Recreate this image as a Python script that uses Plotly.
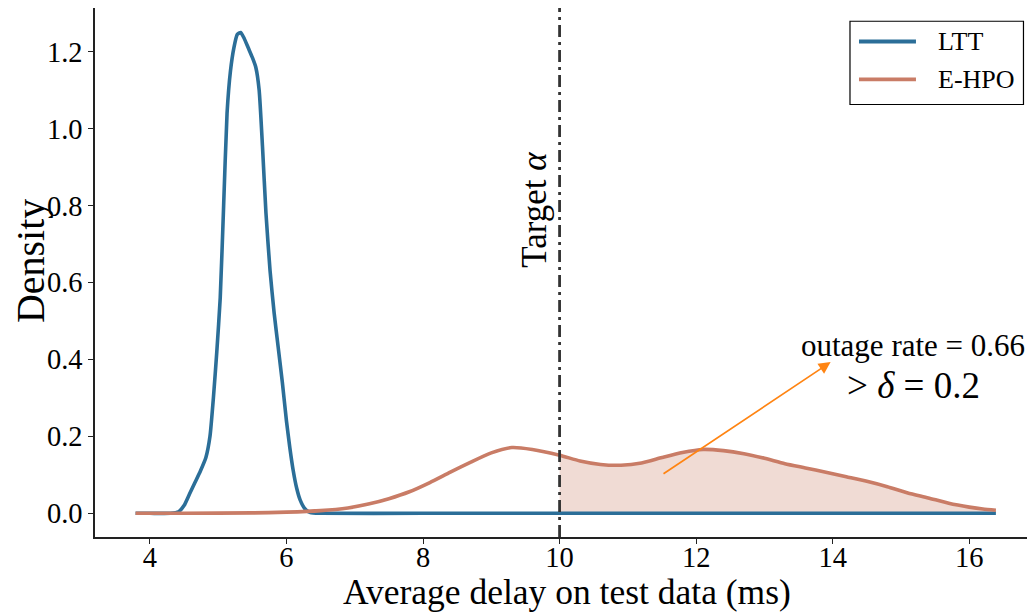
import plotly.graph_objects as go

# ---------------- data ----------------
ltt_x = [3.79, 4.0, 4.3, 4.42, 4.5, 4.58, 4.66, 4.74, 4.82, 4.88, 4.93, 4.98, 5.03, 5.08, 5.13,
         5.18, 5.23, 5.28, 5.33, 5.38, 5.44, 5.5, 5.55, 5.6, 5.65, 5.7, 5.76, 5.82, 5.88, 5.94,
         6.0, 6.05, 6.1, 6.15, 6.2, 6.27, 6.35, 6.5, 8.0, 10.0, 12.0, 14.0, 16.39]
ltt_y = [0.0, 0.0, 0.0, 0.004, 0.02, 0.05, 0.08, 0.11, 0.145, 0.2, 0.3, 0.42, 0.56, 0.8, 1.04,
         1.15, 1.21, 1.245, 1.25, 1.235, 1.21, 1.185, 1.16, 1.1, 0.95, 0.78, 0.63, 0.52, 0.43, 0.34,
         0.24, 0.17, 0.11, 0.065, 0.035, 0.012, 0.002, 0.0, 0.0, 0.0, 0.0, 0.0, 0.0]

ehpo_x = [3.79, 4.5, 5.5, 6.0, 6.5, 6.9, 7.2, 7.5, 7.8, 8.1, 8.4, 8.7, 9.0, 9.3, 9.6, 10.0,
          10.3, 10.6, 10.9, 11.2, 11.5, 11.8, 12.1, 12.4, 12.7, 13.0, 13.3, 13.6, 13.9, 14.2,
          14.5, 14.8, 15.1, 15.4, 15.7, 16.0, 16.2, 16.39]
ehpo_y = [0.0, 0.0, 0.001, 0.003, 0.007, 0.014, 0.024, 0.038, 0.056, 0.08, 0.107, 0.133, 0.157,
          0.171, 0.166, 0.151, 0.136, 0.127, 0.125, 0.131, 0.145, 0.158, 0.166, 0.163, 0.155,
          0.143, 0.129, 0.118, 0.107, 0.095, 0.083, 0.069, 0.053, 0.04, 0.026, 0.016, 0.011, 0.008]

series_names = ["LTT", "E-HPO"]
target_alpha = 10.0
outage_rate = 0.66
delta = 0.2
x_ticks = [4, 6, 8, 10, 12, 14, 16]
y_ticks = [0.0, 0.2, 0.4, 0.6, 0.8, 1.0, 1.2]

# ---------------- style ----------------
FONT = "Liberation Serif"
BLUE = "#2b6e98"
SALMON = "#c97c66"

fig = go.Figure()

fill_x = [x for x in ehpo_x if x >= target_alpha]
fill_y = [y for x, y in zip(ehpo_x, ehpo_y) if x >= target_alpha]
fig.add_trace(go.Scatter(x=fill_x, y=fill_y, mode="lines", fill="tozeroy",
                         fillcolor="rgba(201,124,102,0.28)", line=dict(width=0, shape="spline", smoothing=0.6),
                         showlegend=False, hoverinfo="skip"))

fig.add_trace(go.Scatter(x=ltt_x, y=ltt_y, mode="lines", name=series_names[0],
                         line=dict(color=BLUE, width=3.6, shape="spline", smoothing=0.5)))
fig.add_trace(go.Scatter(x=ehpo_x, y=ehpo_y, mode="lines", name=series_names[1],
                         line=dict(color=SALMON, width=3.6, shape="spline", smoothing=0.6)))

fig.add_shape(type="line", x0=target_alpha, x1=target_alpha, xref="x", yref="paper", y0=0, y1=1,
              line=dict(color="#333333", width=2.8, dash="12px,5px,3px,5px"))

fig.add_annotation(x=9.64, y=0.789, xref="x", yref="y", text="Target <i>α</i>", textangle=-90,
                   showarrow=False, font=dict(family=FONT, size=35, color="black"))

fig.add_annotation(x=13.97, y=0.393, ax=11.5, ay=0.1, xref="x", yref="y", axref="x", ayref="y",
                   text="", showarrow=True, arrowhead=2, arrowsize=1.4, arrowwidth=1.7,
                   arrowcolor="#ff8412")
fig.add_annotation(x=15.18, y=0.436, xref="x", yref="y", text=f"outage rate = {outage_rate}",
                   showarrow=False, font=dict(family=FONT, size=31, color="black"))
fig.add_annotation(x=15.18, y=0.332, xref="x", yref="y", text=f"> <i>δ</i> = {delta}",
                   showarrow=False, font=dict(family=FONT, size=37, color="black"))

# axis titles
fig.add_annotation(x=0.4974, y=-0.1045, xref="paper", yref="paper", showarrow=False,
                   text="Average delay on test data (ms)", xanchor="center", yanchor="middle",
                   font=dict(family=FONT, size=35.5, color="black"))
fig.add_annotation(x=-0.0686, y=0.5215, xref="paper", yref="paper", showarrow=False,
                   text="Density", textangle=-90, xanchor="center", yanchor="middle",
                   font=dict(family=FONT, size=40, color="black"))

# legend (drawn as a framed key)
fig.add_shape(type="rect", xref="paper", yref="paper", x0=0.7964, x1=0.9794, y0=0.8176, y1=0.975,
              line=dict(color="black", width=1.2), fillcolor="white", layer="above")
legend_rows = [0.9367, 0.8649]
legend_colors = [BLUE, SALMON]
for name, yy, col in zip(series_names, legend_rows, legend_colors):
    fig.add_shape(type="line", xref="paper", yref="paper", x0=0.8059, x1=0.8660, y0=yy, y1=yy,
                  line=dict(color=col, width=3.8), layer="above")
    fig.add_annotation(x=0.8871, y=yy, xref="paper", yref="paper", text=name, showarrow=False,
                       xanchor="left", yanchor="middle", font=dict(family=FONT, size=26, color="black"))

# page body has an 8px margin, so the plot area is offset to land where the reference has it;
# the right spine falls just outside the window, as in the reference
fig.update_layout(
    width=1035, height=612,
    margin=dict(l=87, r=0, t=0, b=83.3, autoexpand=False),
    paper_bgcolor="white", plot_bgcolor="white",
    font=dict(family=FONT, color="black"),
    showlegend=False,
    xaxis=dict(range=[3.196, 17.08], tickvals=x_ticks, ticktext=[str(t) for t in x_ticks],
               showgrid=False, zeroline=False, showline=True, linecolor="#222222", linewidth=1.5,
               mirror=True, ticks="outside", ticklen=5, tickwidth=1.3, tickcolor="#222222",
               automargin=False, ticklabelstandoff=-11,
               tickfont=dict(family=FONT, size=28.5, color="black")),
    yaxis=dict(range=[-0.0616, 1.3135], tickvals=y_ticks, ticktext=[f"{t:.1f}" for t in y_ticks],
               showgrid=False, zeroline=False, showline=True, linecolor="#222222", linewidth=1.5,
               mirror=False, ticks="outside", ticklen=5, tickwidth=1.3, tickcolor="#222222",
               automargin=False,
               tickfont=dict(family=FONT, size=28.5, color="black")),
)

fig.write_html("out.html")
